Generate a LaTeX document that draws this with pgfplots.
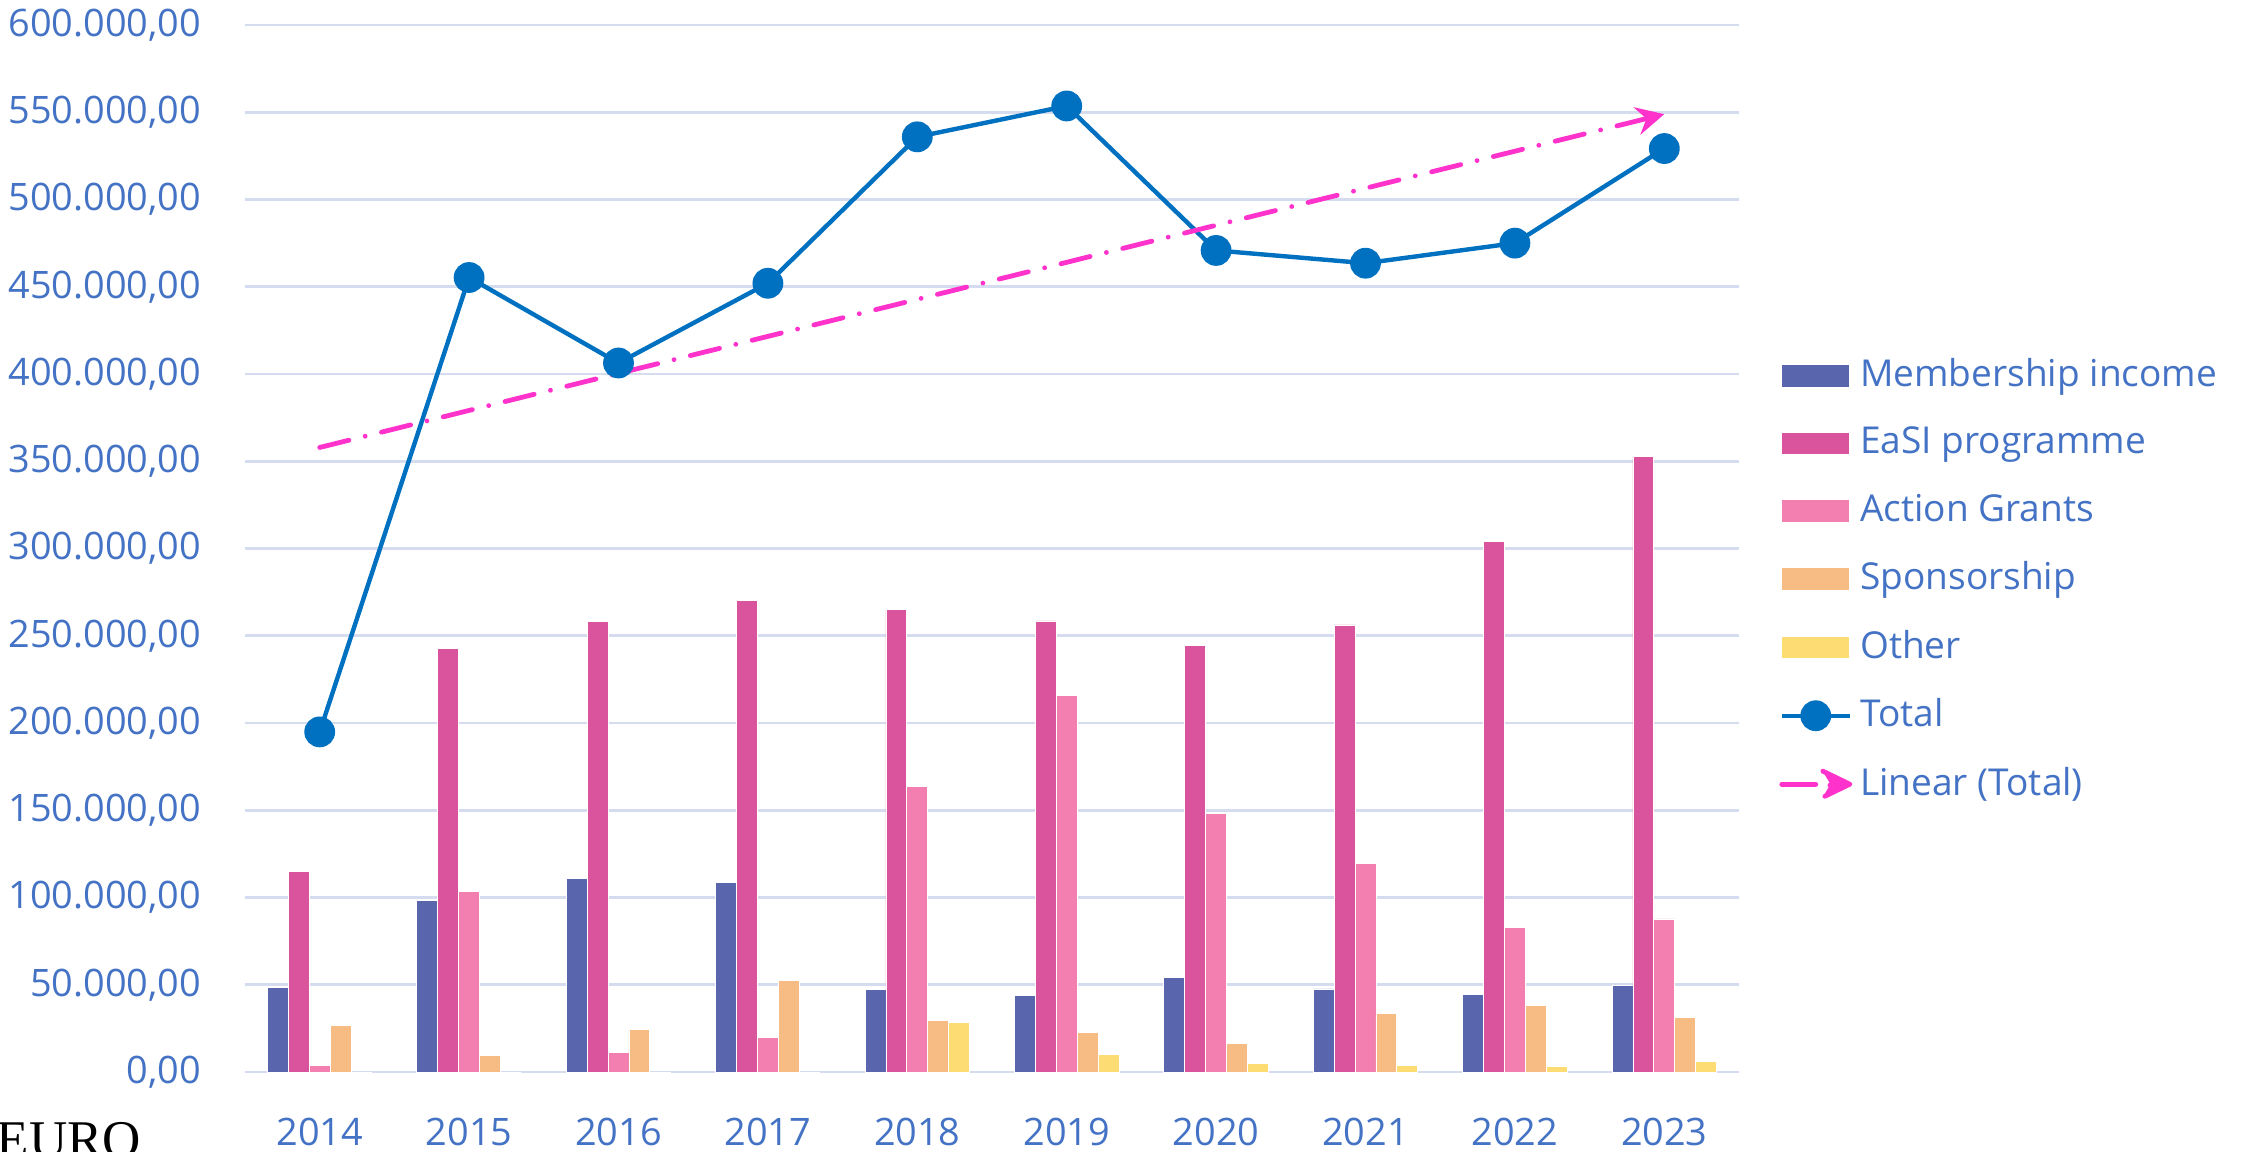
\documentclass[border=0pt]{standalone}
\usepackage{fontspec}
\setmainfont{Open Sans}
\newfontfamily\eurofont{Liberation Serif}
\usepackage{pgfplots}
\usepackage{pgfplotstable}
\pgfplotsset{compat=1.18}
\usetikzlibrary{arrows.meta}
\definecolor{cmem}{HTML}{5966AE}
\definecolor{ceasi}{HTML}{D9539D}
\definecolor{cact}{HTML}{F27FB0}
\definecolor{cspon}{HTML}{F7BC84}
\definecolor{coth}{HTML}{FEDC74}
\definecolor{ctot}{HTML}{0070C0}
\definecolor{ctrend}{HTML}{FF33CC}
\definecolor{clab}{HTML}{4472C4}
\definecolor{cgrid}{HTML}{D6DCF0}
\pgfplotstableread{
x mem easi act spon oth tot
0 48300 114700 3600 26500 0 194900
1 98300 242500 103300 9600 0 455300
2 110900 258300 11200 24400 0 406300
3 108400 270300 19600 52400 0 452000
4 47500 265000 163700 29300 28200 535900
5 44100 258500 215700 22700 10100 553600
6 54000 244500 148000 16200 4900 470800
7 47600 256200 119400 33800 3800 463500
8 44700 303900 82700 38300 3100 475000
9 49700 352700 87700 31100 6200 529200
}\datatable
\pgfplotstableread{
x trend
0 357900
9 548900
}\trendtable
\begin{document}
\begin{tikzpicture}[x=1bp,y=1bp]
\useasboundingbox (0,0) rectangle (562.5,287.75);
\node[anchor=north west, inner sep=0pt, font=\eurofont\fontsize{13.3}{13}\selectfont, text=black] at (-1,7.4) {EURO};
\begin{axis}[
  at={(61.25bp,19.75bp)}, anchor=south west,
  scale only axis, width=373.5bp, height=261.75bp,
  xmin=-0.5, xmax=9.5, ymin=0, ymax=600000,
  xtick={0,...,9}, xticklabels={2014,2015,2016,2017,2018,2019,2020,2021,2022,2023},
  ytick={0,50000,...,600000},
  scaled y ticks=false,
  axis line style={draw=none},
  major tick length=0pt,
  ymajorgrids, grid style={draw=cgrid, line width=0.7bp},
  /pgf/number format/fixed, /pgf/number format/fixed zerofill,
  /pgf/number format/precision=2, /pgf/number format/1000 sep={.},
  /pgf/number format/use comma, /pgf/number format/assume math mode=true,
  tick label style={font=\fontsize{9.5}{11}\selectfont, text=clab},
  yticklabel style={xshift=-7.5bp},
  xticklabel style={yshift=-8bp},
  bar width=0.14,
  clip=false,
  legend style={at={(1.027,0.47)}, anchor=west, draw=none, fill=none,
    font=\fontsize{9.3}{11}\selectfont, text=clab, row sep=4.6bp,
    inner sep=0pt, outer sep=0pt},
  legend cell align=left,
]
\addplot[ybar, bar shift=-0.28, fill=cmem, draw=white, line width=0.2bp, area legend] table[x=x,y=mem]{\datatable};
\addlegendentry{Membership income}
\addplot[ybar, bar shift=-0.14, fill=ceasi, draw=white, line width=0.2bp, area legend] table[x=x,y=easi]{\datatable};
\addlegendentry{EaSI programme}
\addplot[ybar, bar shift=0, fill=cact, draw=white, line width=0.2bp, area legend] table[x=x,y=act]{\datatable};
\addlegendentry{Action Grants}
\addplot[ybar, bar shift=0.14, fill=cspon, draw=white, line width=0.2bp, area legend] table[x=x,y=spon]{\datatable};
\addlegendentry{Sponsorship}
\addplot[ybar, bar shift=0.28, fill=coth, draw=white, line width=0.2bp, area legend] table[x=x,y=oth]{\datatable};
\addlegendentry{Other}
\addplot[color=ctot, line width=1.1bp, mark=*, mark size=3.3bp, mark options={fill=ctot, draw=ctot}] table[x=x,y=tot]{\datatable};
\addlegendentry{Total}
\addplot[color=ctrend, line width=1.2bp, line cap=round, dash pattern=on 7.5bp off 4.2bp on 0.01bp off 4.2bp, -{Stealth[length=7bp,width=7bp,inset=2.4bp]},
  legend image code/.code={\draw[color=ctrend, line width=1.2bp, line cap=round, solid, arrows=-] (0cm,0cm) -- (0.3cm,0cm); \fill[color=ctrend, arrows=-] (0.6cm,0cm) -- (0.36cm,3.3bp) -- (0.43cm,0cm) -- (0.36cm,-3.3bp) -- cycle;}] table[x=x,y=trend]{\trendtable};
\addlegendentry{Linear (Total)}
\end{axis}
\end{tikzpicture}
\end{document}
